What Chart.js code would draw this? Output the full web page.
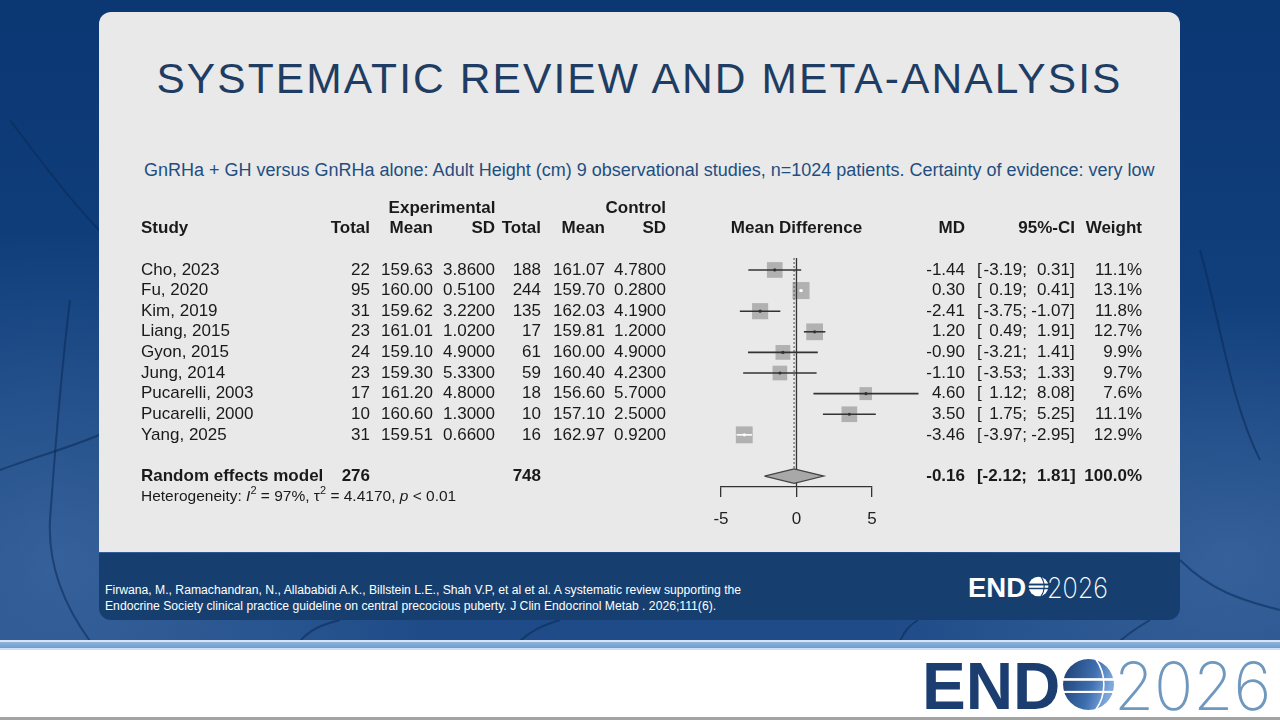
<!DOCTYPE html>
<html>
<head>
<meta charset="utf-8">
<script src="https://cdn.jsdelivr.net/npm/chart.js@4.4.1/dist/chart.umd.min.js"></script>
<style>
body{margin:0;width:1280px;height:720px;overflow:hidden;position:relative;background:#fff;font-family:"Liberation Sans",Arial,sans-serif}
#bg{position:absolute;left:0;top:0;width:1280px;height:641px;background:
  radial-gradient(ellipse 380px 330px at 60px 560px, rgba(75,115,170,.55), transparent),
  radial-gradient(ellipse 360px 260px at 1230px 560px, rgba(75,115,170,.55), transparent),
  linear-gradient(180deg,#0b3773 0%,#103f7b 45%,#1f4c88 100%)}
#bg svg{position:absolute;left:0;top:0}
#line1{position:absolute;left:0;top:640px;width:1280px;height:2px;background:#d6e4f3}
#line2{position:absolute;left:0;top:642px;width:1280px;height:6px;background:linear-gradient(180deg,#8fb3dc,#6f9bcf)}
#line3{position:absolute;left:0;top:648px;width:1280px;height:2px;background:#cfe0f2}
#line4{position:absolute;left:0;top:717px;width:1280px;height:3px;background:#a3a3a3}
#card{position:absolute;left:99px;top:12px;width:1081px;height:540px;background:#e9e9e9;border-radius:12px 12px 0 0}
#foot{position:absolute;left:99px;top:553px;width:1081px;height:67px;background:#163f6f;border-radius:0 0 12px 12px}
#title{position:absolute;left:99px;width:1081px;top:55px;text-align:center;font-size:42.5px;line-height:48px;letter-spacing:2.1px;color:#1f3d63;white-space:nowrap}
#sub{position:absolute;left:144px;top:160px;font-size:18px;line-height:21px;color:#1f4e80;white-space:nowrap}
#wrap{position:absolute;left:120px;top:190px;width:1050px;height:340px}
#cite{position:absolute;left:105px;top:582px;color:#fff;font-size:12.5px;line-height:16px;transform-origin:0 0;white-space:nowrap;font-family:"Liberation Sans Narrow","Liberation Sans",sans-serif}
.endtxt{position:absolute;font-weight:bold;white-space:nowrap;font-family:"Liberation Sans",Arial,sans-serif;transform-origin:0 0}
.yr{position:absolute;white-space:nowrap;font-family:Inter,Lato,sans-serif;font-weight:200;transform-origin:0 0}
.globe{position:absolute}
</style>
</head>
<body>
<div id="bg">
  <svg width="1280" height="641" viewBox="0 0 1280 641">
    <g fill="none" stroke="rgba(10,40,85,.55)" stroke-width="2">
      <path d="M70 300 C60 380 55 450 50 520 C48 560 60 600 90 641"/>
      <path d="M0 470 C40 455 80 445 110 430"/>
      <path d="M10 120 C40 160 70 200 99 230"/>
      <path d="M1180 560 C1210 590 1240 600 1280 610"/>
      <path d="M1200 250 C1220 320 1230 400 1260 460"/>
      <path d="M300 641 C310 630 320 625 340 620"/>
      <path d="M900 641 C905 630 910 625 918 620"/>
      <path d="M1120 641 C1130 632 1140 626 1150 620"/>
      <path d="M520 641 C530 632 540 626 560 620"/>
    </g>
  </svg>
</div>
<div id="line1"></div><div id="line2"></div><div id="line3"></div><div id="line4"></div>
<div id="card"></div>
<div id="foot"></div>
<div id="title">SYSTEMATIC REVIEW AND META-ANALYSIS</div>
<div id="sub">GnRHa + GH versus GnRHa alone: Adult Height (cm) 9 observational studies, n=1024 patients. Certainty of evidence: very low</div>
<div id="wrap"><canvas id="chart"></canvas></div>
<div id="cite">Firwana, M., Ramachandran, N., Allababidi A.K., Billstein L.E., Shah V.P, et al et al. A systematic review supporting the<br>Endocrine Society clinical practice guideline on central precocious puberty. J Clin Endocrinol Metab . 2026;111(6).</div>

<div id="endS" class="endtxt" style="left:968px;top:574px;font-size:28px;line-height:28px;color:#fff">END</div>
<svg class="globe" style="left:1028px;top:576px" width="21" height="21" viewBox="0 0 100 100">
  <circle cx="50" cy="50" r="47" fill="#fff"/>
  <rect x="0" y="36" width="100" height="9" fill="#163f6f"/>
  <rect x="0" y="56" width="100" height="7" fill="#163f6f"/>
  <path d="M62 4 C82 30 82 70 62 96" fill="none" stroke="#163f6f" stroke-width="5"/>
</svg>
<div class="yr" style="left:1047px;top:574px;font-size:28px;line-height:28px;color:#fff;transform:scaleX(0.9)">2026</div>

<div id="endB" class="endtxt" style="left:922px;top:652px;font-size:67px;line-height:67px;color:#1b3d70">END</div>
<svg class="globe" style="left:1062px;top:658px" width="53" height="53" viewBox="0 0 100 100">
  <defs>
    <linearGradient id="gg" x1="0" y1="0" x2="1" y2="0.3">
      <stop offset="0" stop-color="#1b3d70"/>
      <stop offset="0.65" stop-color="#3f6fb0"/>
      <stop offset="1" stop-color="#7ea8dc"/>
    </linearGradient>
  </defs>
  <circle cx="50" cy="50" r="48" fill="url(#gg)"/>
  <rect x="0" y="38" width="100" height="5" fill="#fff"/>
  <rect x="0" y="62" width="100" height="4" fill="#fff"/>
  <path d="M64 3 C84 30 84 70 64 97" fill="none" stroke="#fff" stroke-width="3"/>
</svg>
<div class="yr" style="left:1114px;top:652px;font-size:67px;line-height:67px;color:#6f98bf;transform:scaleX(0.97)">2026</div>

<script>
var studies = ["Cho, 2023", "Fu, 2020", "Kim, 2019", "Liang, 2015", "Gyon, 2015", "Jung, 2014", "Pucarelli, 2003", "Pucarelli, 2000", "Yang, 2025"];
var expTotal = [22, 95, 31, 23, 24, 23, 17, 10, 31];
var expMean = [159.63, 160.00, 159.62, 161.01, 159.10, 159.30, 161.20, 160.60, 159.51];
var expSD = [3.86, 0.51, 3.22, 1.02, 4.90, 5.33, 4.80, 1.30, 0.66];
var ctlTotal = [188, 244, 135, 17, 61, 59, 18, 10, 16];
var ctlMean = [161.07, 159.70, 162.03, 159.81, 160.00, 160.40, 156.60, 157.10, 162.97];
var ctlSD = [4.78, 0.28, 4.19, 1.20, 4.90, 4.23, 5.70, 2.50, 0.92];
var md = [-1.44, 0.30, -2.41, 1.20, -0.90, -1.10, 4.60, 3.50, -3.46];
var ciLow = [-3.19, 0.19, -3.75, 0.49, -3.21, -3.53, 1.12, 1.75, -3.97];
var ciHigh = [0.31, 0.41, -1.07, 1.91, 1.41, 1.33, 8.08, 5.25, -2.95];
var weight = [11.1, 13.1, 11.8, 12.7, 9.9, 9.7, 7.6, 11.1, 12.9];

var pooledMD = -0.16;
var pooledLow = -2.12;
var pooledHigh = 1.81;
var pooledExpTotal = 276;
var pooledCtlTotal = 748;
var i2 = "97%";
var tau2 = "4.4170";
var pValue = "0.01";

var xTicks = [-5, 0, 5];

var yMin = 0.42, yMax = 11.53;
var pooledRow = studies.length + 2;
var dh = 0.35;
var dark = "#333333";
var txt = "#1a1a1a";

// square side grows with sqrt(weight), like meta's forest()
function side(i) { return 4.7 * Math.sqrt(weight[i]); }

// CI drawn white when it sits inside its own square
function ciColor(chart, i) {
    var sx = chart.scales.x;
    if (!sx) return dark;
    var w = sx.getPixelForValue(ciHigh[i]) - sx.getPixelForValue(ciLow[i]);
    return w < side(i) ? "#ffffff" : dark;
}

var datasets = [];

studies.forEach(function(s, i) {
    datasets.push({
        data: [{x: ciLow[i], y: i + 1}, {x: ciHigh[i], y: i + 1}],
        showLine: true,
        borderColor: function(c) { return ciColor(c.chart, i); },
        borderWidth: 1.6,
        pointRadius: 0,
        clip: false,
        order: 1
    });
});

datasets.push({
    data: md.map(function(v, i) { return {x: v, y: i + 1}; }),
    pointStyle: "rect",
    pointRadius: weight.map(function(w, i) { return side(i) / Math.SQRT2; }),
    backgroundColor: "#b1b1b1",
    borderWidth: 0,
    order: 3
});

datasets.push({
    data: md.map(function(v, i) { return {x: v, y: i + 1}; }),
    pointRadius: 1.6,
    backgroundColor: function(c) { return ciColor(c.chart, c.dataIndex); },
    borderWidth: 0,
    order: 0
});

datasets.push({
    data: [{x: 0, y: yMin}, {x: 0, y: yMax}],
    showLine: true, borderColor: dark, borderWidth: 1.3, pointRadius: 0, order: 2
});

datasets.push({
    data: [{x: pooledMD, y: yMin}, {x: pooledMD, y: pooledRow - dh}],
    showLine: true, borderColor: "#666", borderWidth: 1.2, borderDash: [2, 2], pointRadius: 0, order: 2
});

datasets.push({
    data: [
        {x: pooledLow, y: pooledRow}, {x: pooledMD, y: pooledRow - dh},
        {x: pooledHigh, y: pooledRow}, {x: pooledMD, y: pooledRow + dh},
        {x: pooledLow, y: pooledRow}
    ],
    showLine: true, fill: "shape", backgroundColor: "#a8a8a8", borderColor: "#444",
    borderWidth: 1.2, pointRadius: 0, tension: 0, order: 1
});

function f2(v) { return v.toFixed(2); }

var tablePlugin = {
    id: "table",
    afterDraw: function(chart) {
        var ctx = chart.ctx;
        var sy = chart.scales.y;
        var sx = chart.scales.x;
        var reg = "17px 'Liberation Sans', Arial, sans-serif";
        var bold = "bold 17px 'Liberation Sans', Arial, sans-serif";

        function put(t, x, row, align, font) {
            ctx.font = font || reg;
            ctx.textAlign = align;
            ctx.fillText(t, x, sy.getPixelForValue(row));
        }
        function ci(lo, hi, row, font) {
            put("[", 857, row, "left", font);
            put(f2(lo) + ";", 907, row, "right", font);
            put(f2(hi), 950, row, "right", font);
            put("]", 950, row, "left", font);
        }

        ctx.save();
        ctx.fillStyle = txt;
        ctx.textBaseline = "middle";

        // headers: two rows above the first study
        put("Experimental", 322, -2, "center", bold);
        put("Control", 546, -2, "right", bold);
        put("Study", 21, -1, "left", bold);
        put("Total", 250, -1, "right", bold);
        put("Mean", 313, -1, "right", bold);
        put("SD", 375, -1, "right", bold);
        put("Total", 421, -1, "right", bold);
        put("Mean", 485, -1, "right", bold);
        put("SD", 546, -1, "right", bold);
        put("Mean Difference", sx.getPixelForValue(0), -1, "center", bold);
        put("MD", 845, -1, "right", bold);
        put("95%-CI", 955, -1, "right", bold);
        put("Weight", 1022, -1, "right", bold);

        studies.forEach(function(s, i) {
            var r = i + 1;
            put(s, 21, r, "left");
            put(String(expTotal[i]), 250, r, "right");
            put(f2(expMean[i]), 313, r, "right");
            put(expSD[i].toFixed(4), 375, r, "right");
            put(String(ctlTotal[i]), 421, r, "right");
            put(f2(ctlMean[i]), 485, r, "right");
            put(ctlSD[i].toFixed(4), 546, r, "right");
            put(f2(md[i]), 845, r, "right");
            ci(ciLow[i], ciHigh[i], r);
            put(weight[i].toFixed(1) + "%", 1022, r, "right");
        });

        put("Random effects model", 21, pooledRow, "left", bold);
        put(String(pooledExpTotal), 250, pooledRow, "right", bold);
        put(String(pooledCtlTotal), 421, pooledRow, "right", bold);
        put(f2(pooledMD), 845, pooledRow, "right", bold);
        ci(pooledLow, pooledHigh, pooledRow, bold);
        put("100.0%", 1022, pooledRow, "right", bold);

        // heterogeneity line with italic / superscript parts
        var hy = sy.getPixelForValue(pooledRow + 1);
        var parts = [
            ["Heterogeneity: ", ""], ["I", "italic "], ["2", "sup"], [" = " + i2 + ", ", ""],
            ["\u03c4", ""], ["2", "sup"], [" = " + tau2 + ", ", ""], ["p", "italic "], [" < " + pValue, ""]
        ];
        var hx = 21;
        ctx.textAlign = "left";
        parts.forEach(function(p) {
            var y = hy;
            if (p[1] === "sup") {
                ctx.font = "11px 'Liberation Sans', Arial, sans-serif";
                y = hy - 6;
            } else {
                ctx.font = p[1] + "15.5px 'Liberation Sans', Arial, sans-serif";
            }
            ctx.fillText(p[0], hx, y);
            hx += ctx.measureText(p[0]).width;
        });
        ctx.restore();
    }
};

new Chart(document.getElementById("chart"), {
    type: "scatter",
    data: { datasets: datasets },
    options: {
        responsive: true,
        maintainAspectRatio: false,
        animation: false,
        events: [],
        layout: { padding: { left: 601, right: 298, top: 68, bottom: 3 } },
        plugins: { legend: { display: false }, tooltip: { enabled: false } },
        scales: {
            x: {
                type: "linear",
                min: -5,
                max: 5,
                afterBuildTicks: function(s) { s.ticks = xTicks.map(function(v) { return {value: v}; }); },
                afterFit: function(s) { s.height = 40; },
                grid: { drawOnChartArea: false, drawTicks: true, tickLength: 10, color: dark, lineWidth: 1.3 },
                border: { display: true, color: dark, width: 1.3 },
                ticks: { color: "#222", padding: 12, font: { size: 17, family: "'Liberation Sans', Arial, sans-serif" } }
            },
            y: { type: "linear", min: yMin, max: yMax, reverse: true, display: false }
        }
    },
    plugins: [tablePlugin]
});

// stretch text blocks to the widths they have in the reference
function stretch(id, w) {
    var el = document.getElementById(id);
    el.style.transform = "scaleX(" + (w / el.scrollWidth) + ")";
}
stretch("cite", 636);
stretch("endS", 58);
stretch("endB", 138);
</script>
</body>
</html>
